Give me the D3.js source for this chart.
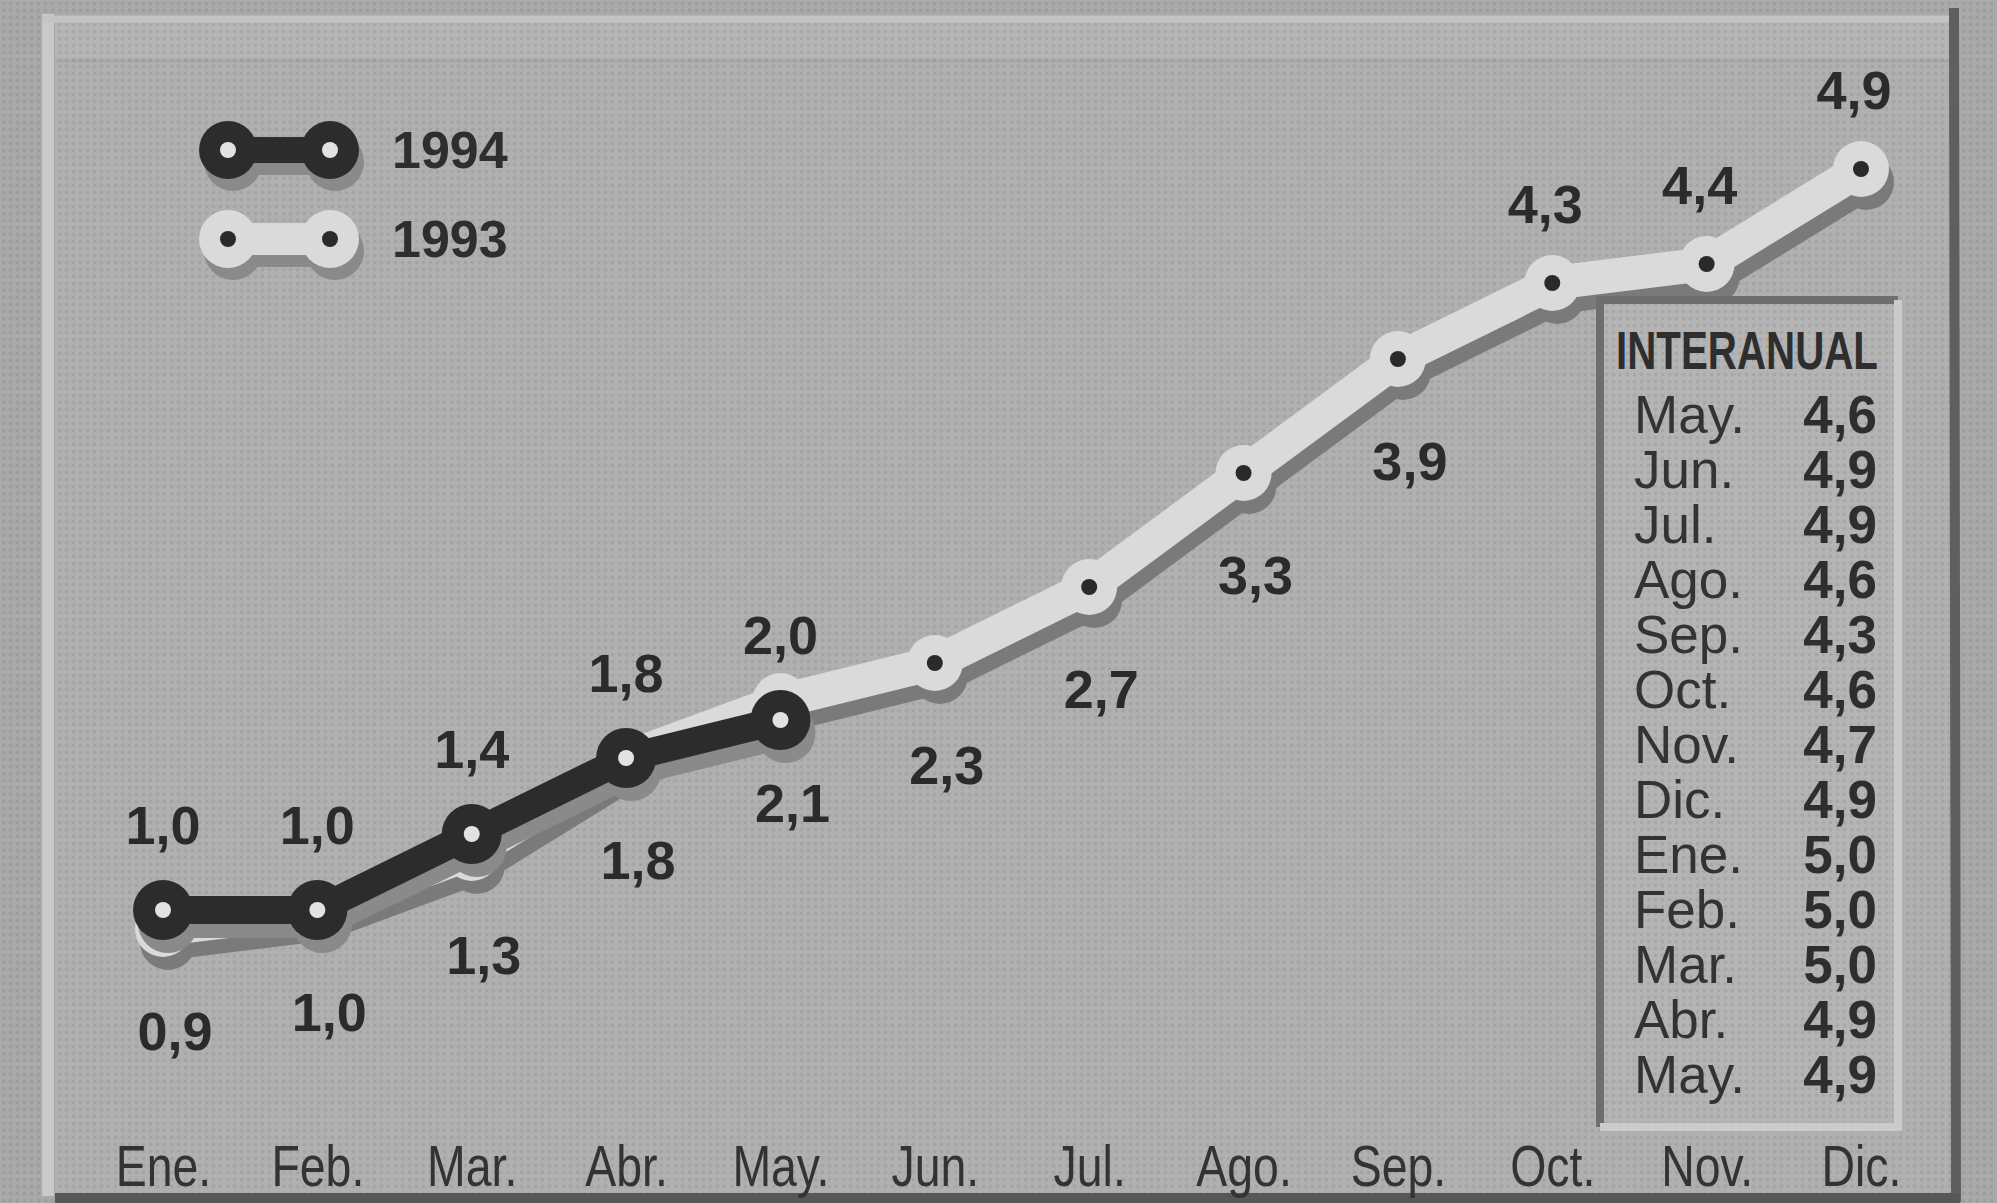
<!DOCTYPE html>
<html>
<head>
<meta charset="utf-8">
<script src="https://cdnjs.cloudflare.com/ajax/libs/d3/7.8.5/d3.min.js"></script>
<style>
  body { margin: 0; background: #a8a8a8; }
  svg { display: block; }
  .val { font-family: "Liberation Sans", Arial, sans-serif; font-weight: bold; font-size: 54px; fill: #2b2b2b; }
  .month { font-family: "Liberation Sans", Arial, sans-serif; font-size: 58px; fill: #333; }
  .legend text { font-family: "Liberation Sans", Arial, sans-serif; font-weight: bold; font-size: 52px; fill: #2e2e2e; }
  .box-title { font-family: "Liberation Sans", Arial, sans-serif; font-weight: bold; font-size: 54px; fill: #2e2e2e; }
  .box-month { font-family: "Liberation Sans", Arial, sans-serif; font-size: 53px; fill: #333; }
  .box-val { font-family: "Liberation Sans", Arial, sans-serif; font-weight: bold; font-size: 53px; fill: #2e2e2e; }
</style>
</head>
<body>
<div id="chart"></div>
<script>
// valores (IPC acumulado, %)
const months = ['Ene.', 'Feb.', 'Mar.', 'Abr.', 'May.', 'Jun.', 'Jul.', 'Ago.', 'Sep.', 'Oct.', 'Nov.', 'Dic.'];
const values1994 = [1.0, 1.0, 1.4, 1.8, 2.0];
const values1993 = [0.9, 1.0, 1.3, 1.8, 2.1, 2.3, 2.7, 3.3, 3.9, 4.3, 4.4, 4.9];
const legendYears = ['1994', '1993'];

// tabla interanual
const interanualTitle = 'INTERANUAL';
const interanualMonths = ['May.', 'Jun.', 'Jul.', 'Ago.', 'Sep.', 'Oct.', 'Nov.', 'Dic.', 'Ene.', 'Feb.', 'Mar.', 'Abr.', 'May.'];
const interanualValues = [4.6, 4.9, 4.9, 4.6, 4.3, 4.6, 4.7, 4.9, 5.0, 5.0, 5.0, 4.9, 4.9];

const width = 1997, height = 1203;
const fmt = v => v.toFixed(1).replace('.', ',');

const svg = d3.select('#chart').append('svg')
    .attr('width', width)
    .attr('height', height);

// trama de puntos tipo periodico
const defs = svg.append('defs');
const pat = defs.append('pattern')
    .attr('id', 'halftone')
    .attr('width', 7).attr('height', 7)
    .attr('patternUnits', 'userSpaceOnUse');
pat.append('circle').attr('cx', 3.5).attr('cy', 3.5).attr('r', 1.8).attr('fill', '#000').attr('opacity', 0.07);

// fondo y marco
svg.append('rect').attr('width', width).attr('height', height).attr('fill', '#a9a9a9');
svg.append('rect').attr('x', 55).attr('y', 22).attr('width', 1896).attr('height', 1173).attr('fill', '#b0b0b0');
svg.append('rect').attr('x', 55).attr('y', 22).attr('width', 1896).attr('height', 38).attr('fill', '#b5b5b5');
svg.append('line').attr('x1', 55).attr('x2', 1951).attr('y1', 61).attr('y2', 61).attr('stroke', '#a6a6a6').attr('stroke-width', 3);
svg.append('rect').attr('width', width).attr('height', height).attr('fill', 'url(#halftone)');

svg.append('line').attr('x1', 48).attr('x2', 48).attr('y1', 14).attr('y2', 1196)
    .attr('stroke', '#c9c9c9').attr('stroke-width', 12);
svg.append('line').attr('x1', 42).attr('x2', 1951).attr('y1', 19).attr('y2', 19)
    .attr('stroke', '#c4c4c4').attr('stroke-width', 7);
svg.append('line').attr('x1', 1954).attr('x2', 1956).attr('y1', 8).attr('y2', 1202)
    .attr('stroke', '#5f5f5f').attr('stroke-width', 10);
svg.append('line').attr('x1', 55).attr('x2', 1960).attr('y1', 1198).attr('y2', 1198)
    .attr('stroke', '#575757').attr('stroke-width', 10);

// escalas
const x = d3.scalePoint().domain(months).range([163, 1861]);
const y = d3.scaleLinear().domain([0, 5]).range([1100, 150]);

const line = d3.line()
    .x((d, i) => x(months[i]))
    .y(d => y(d));

const plot = svg.append('g');

// dibuja una serie con su sombra
function drawSeries(values, o) {
    const sh = plot.append('g').attr('transform', 'translate(5,13)');
    sh.append('path').datum(values)
        .attr('d', line).attr('fill', 'none')
        .attr('stroke', o.shadow).attr('stroke-width', o.w + 2)
        .attr('stroke-linejoin', 'round');
    sh.selectAll('circle').data(values).enter().append('circle')
        .attr('cx', (d, i) => x(months[i])).attr('cy', d => y(d))
        .attr('r', o.r).attr('fill', o.shadow);

    const g = plot.append('g');
    g.append('path').datum(values)
        .attr('d', line).attr('fill', 'none')
        .attr('stroke', o.color).attr('stroke-width', o.w)
        .attr('stroke-linejoin', 'round');
    g.selectAll('.mk').data(values).enter().append('circle')
        .attr('cx', (d, i) => x(months[i])).attr('cy', d => y(d))
        .attr('r', o.r).attr('fill', o.color);
    g.selectAll('.dot').data(values).enter().append('circle')
        .attr('cx', (d, i) => x(months[i])).attr('cy', d => y(d))
        .attr('r', 8).attr('fill', o.dot);
}

drawSeries(values1993, { color: '#dadada', shadow: '#7a7a7a', dot: '#2a2a2a', r: 28, w: 34 });
drawSeries(values1994, { color: '#2c2c2c', shadow: '#8a8a8a', dot: '#e2e2e2', r: 30, w: 28 });

// etiquetas de valores
plot.selectAll('.v94').data(values1994).enter().append('text')
    .attr('class', 'val')
    .attr('text-anchor', 'middle')
    .attr('x', (d, i) => x(months[i]))
    .attr('y', d => y(d) - 66)
    .text(fmt);

// 1993: debajo hasta septiembre, encima desde octubre
const flipAt = 9;
plot.selectAll('.v93').data(values1993).enter().append('text')
    .attr('class', 'val')
    .attr('text-anchor', 'middle')
    .attr('x', (d, i) => x(months[i]) + (i < flipAt ? 12 : -7))
    .attr('y', (d, i) => y(d) + (i < flipAt ? 121 : -60))
    .text(fmt);

// eje de meses (letra estrecha)
const xAxis = d3.axisBottom(x).tickSize(0).tickPadding(0);
const ax = svg.append('g')
    .attr('transform', 'translate(0,1186)')
    .call(xAxis);
ax.select('.domain').remove();
ax.selectAll('text')
    .attr('class', 'month')
    .attr('y', 0).attr('dy', 0)
    .attr('fill', null)
    .attr('transform', 'scale(0.8,1)');

// leyenda
const legend = svg.append('g').attr('class', 'legend');
const legendStyle = [
    { color: '#2c2c2c', shadow: '#8a8a8a', dot: '#e2e2e2', w: 26 },
    { color: '#dadada', shadow: '#8a8a8a', dot: '#2a2a2a', w: 32 }
];
legendYears.forEach((yr, i) => {
    const s = legendStyle[i];
    const ly = 150 + i * 89;
    const lg = legend.append('g');
    [[5, 12, s.shadow], [0, 0, s.color]].forEach(([dx, dy, c]) => {
        lg.append('line')
            .attr('x1', 228 + dx).attr('x2', 330 + dx)
            .attr('y1', ly + dy).attr('y2', ly + dy)
            .attr('stroke', c).attr('stroke-width', s.w);
        [228, 330].forEach(cx => lg.append('circle')
            .attr('cx', cx + dx).attr('cy', ly + dy).attr('r', 29).attr('fill', c));
    });
    [228, 330].forEach(cx => lg.append('circle')
        .attr('cx', cx).attr('cy', ly).attr('r', 8).attr('fill', s.dot));
    lg.append('text').attr('x', 392).attr('y', ly + 18).text(yr);
});

// cuadro interanual
const box = svg.append('g');
box.append('rect').attr('x', 1600).attr('y', 300).attr('width', 298).attr('height', 827)
    .attr('fill', '#b4b4b4');
box.append('rect').attr('x', 1600).attr('y', 300).attr('width', 298).attr('height', 827)
    .attr('fill', 'url(#halftone)');
box.append('path')
    .attr('d', 'M1600,1127 V300 H1898')
    .attr('fill', 'none').attr('stroke', '#6e6e6e').attr('stroke-width', 8);
box.append('path')
    .attr('d', 'M1898,300 V1127 H1600')
    .attr('fill', 'none').attr('stroke', '#cbcbcb').attr('stroke-width', 8);

box.append('text').attr('class', 'box-title')
    .attr('x', 1616).attr('y', 369)
    .attr('textLength', 262)
    .attr('lengthAdjust', 'spacingAndGlyphs')
    .text(interanualTitle);

const row = d3.scalePoint().domain(d3.range(interanualMonths.length)).range([433, 1093]);
box.selectAll('.bm').data(interanualMonths).enter().append('text')
    .attr('class', 'box-month')
    .attr('x', 1634)
    .attr('y', (d, i) => row(i))
    .text(d => d);
box.selectAll('.bv').data(interanualValues).enter().append('text')
    .attr('class', 'box-val')
    .attr('text-anchor', 'end')
    .attr('x', 1877)
    .attr('y', (d, i) => row(i))
    .text(fmt);
</script>
</body>
</html>
